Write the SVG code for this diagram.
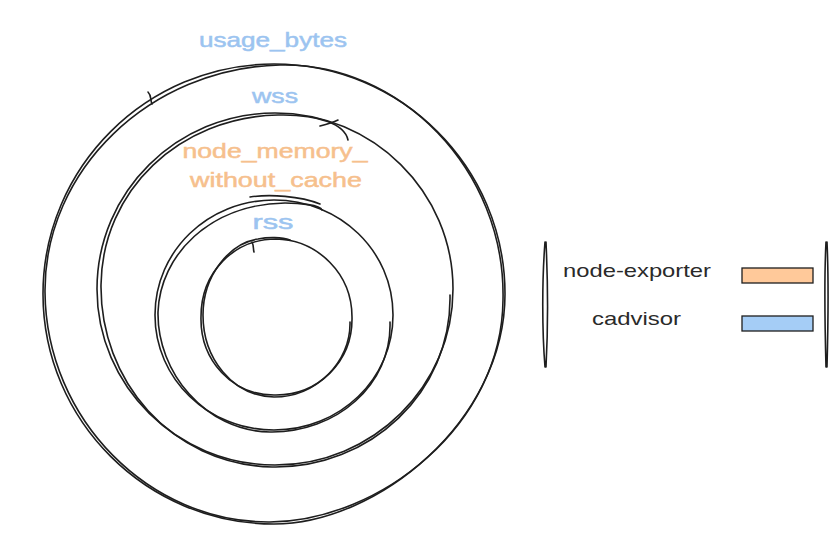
<svg xmlns="http://www.w3.org/2000/svg" width="840" height="534" viewBox="0 0 840 534">
<style>
.ring{fill:none;stroke:#1e1e1e;stroke-width:1.6;stroke-linecap:round;stroke-linejoin:round}
.lbl{font-family:"Liberation Sans","DejaVu Sans",sans-serif;font-size:21px;text-anchor:middle;stroke-width:0.5}
.blue{fill:#9cc4f0;stroke:#9cc4f0}
.orange{fill:#f6c08d;stroke:#f6c08d}
.leg{font-family:"Liberation Sans","DejaVu Sans",sans-serif;font-size:19px;fill:#2a2a2a}
</style>
<rect width="840" height="534" fill="#ffffff"/>
<g id="ring-usage">
<path class="ring" d="M505,294 C505,421 377,524 274,524 C147,524 43,421 43,294 C43,167 147,64 274,64 C401,64 505,167 505,294"/>
<path class="ring" d="M503,300 C502,425 380,521 270,522 C150,523 46,420 45,292 C44,170 150,68 280,65 C400,62 506,170 503,300"/>
<path class="ring" d="M148,92 C152,96 150,100 152,104"/>
</g>
<g id="ring-wss">
<path class="ring" d="M453,289 C453,386 373,465 275,465 C177,465 97,386 97,289 C97,192 177,113 275,113 C373,113 453,192 453,289"/>
<path class="ring" d="M450,295 C452,392 370,469 272,467 C170,464 100,380 101,285 C102,190 180,117 278,115 C320,114 345,125 348,140"/>
<path class="ring" d="M320,126 C328,124 334,122 338,120"/>
</g>
<g id="ring-nmwc">
<path class="ring" d="M393,315 C393,379 340,430 274,430 C208,430 155,379 155,315 C155,251 208,200 274,200 C340,200 393,251 393,315"/>
<path class="ring" d="M390,322 C392,385 336,433 270,432 C205,431 157,372 158,312 C160,255 210,204 285,203 C300,203 320,205 322,210"/>
<path class="ring" d="M250,197 C270,194 300,196 320,204"/>
</g>
<g id="ring-rss">
<path class="ring" d="M352,317 C353,362 318,395 276,395 C232,396 200,360 201,317 C201,272 234,239 276,239 C318,240 352,274 352,317"/>
<path class="ring" d="M350,322 C351,362 316,397 274,397 C232,396 203,358 203,315 C203,275 230,243 258,239 C268,237 282,237 290,240"/>
<path class="ring" d="M252,242 C254,246 253,249 254,252"/>
</g>
<g id="labels">
<text class="lbl blue" x="273" y="47" textLength="148" lengthAdjust="spacingAndGlyphs">usage_bytes</text>
<text class="lbl blue" x="275" y="103" textLength="46" lengthAdjust="spacingAndGlyphs">wss</text>
<text class="lbl orange" x="275" y="158" textLength="185" lengthAdjust="spacingAndGlyphs">node_memory_</text>
<text class="lbl orange" x="276" y="187" textLength="172" lengthAdjust="spacingAndGlyphs">without_cache</text>
<text class="lbl blue" x="273" y="229" textLength="41" lengthAdjust="spacingAndGlyphs">rss</text>
</g>
<g id="legend">
<path class="ring" d="M545,242 C542,280 542,330 545,367 M546,242 C548,285 548,330 546,367"/>
<path class="ring" d="M826,242 C824,280 825,330 826,367 M827,242 C829,285 828,330 827,367"/>
<text class="leg" x="563" y="277" textLength="148" lengthAdjust="spacingAndGlyphs">node-exporter</text>
<text class="leg" x="592" y="325" textLength="89" lengthAdjust="spacingAndGlyphs">cadvisor</text>
<rect x="742" y="268" width="71" height="15" fill="#ffc99a" stroke="#1e1e1e" stroke-width="1.3"/>
<rect x="742" y="316" width="71" height="15" fill="#a5cdf6" stroke="#1e1e1e" stroke-width="1.3"/>
</g>
</svg>
